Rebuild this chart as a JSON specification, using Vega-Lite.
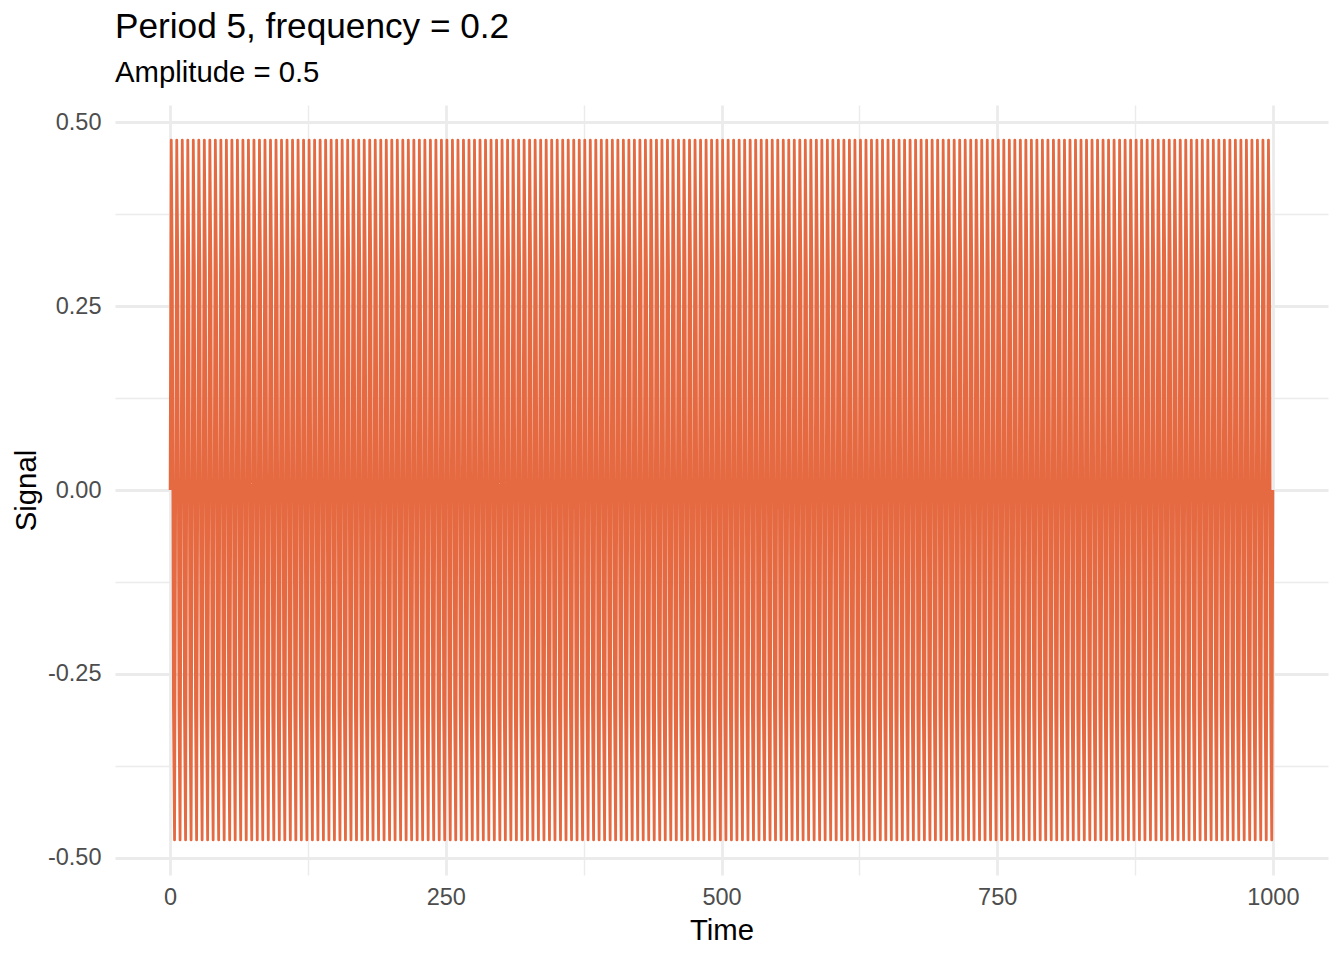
{
  "$schema": "https://vega.github.io/schema/vega-lite/v6.json",
  "width": 1213,
  "height": 770,
  "autosize": {"type": "none"},
  "padding": {"left": 115, "top": 105, "right": 16, "bottom": 85},
  "config": {
    "view": {"stroke": null},
    "font": "Liberation Sans"
  },
  "title": {
    "text": "Period 5, frequency = 0.2",
    "subtitle": "Amplitude = 0.5",
    "anchor": "start",
    "frame": "group",
    "font": "Liberation Sans",
    "fontSize": 35.2,
    "fontWeight": "normal",
    "color": "#000000",
    "subtitleFont": "Liberation Sans",
    "subtitleFontSize": 29.3,
    "subtitleColor": "#000000",
    "subtitlePadding": 14,
    "offset": 17
  },
  "data": {
    "values": [
      {"t":0,"s":0},{"t":1,"s":0.4755},{"t":2,"s":0.2939},{"t":3,"s":-0.2939},{"t":4,"s":-0.4755},
      {"t":5,"s":0},{"t":6,"s":0.4755},{"t":7,"s":0.2939},{"t":8,"s":-0.2939},{"t":9,"s":-0.4755},
      {"t":10,"s":0},{"t":11,"s":0.4755},{"t":12,"s":0.2939},{"t":13,"s":-0.2939},{"t":14,"s":-0.4755},
      {"t":15,"s":0},{"t":16,"s":0.4755},{"t":17,"s":0.2939},{"t":18,"s":-0.2939},{"t":19,"s":-0.4755},
      {"t":20,"s":0},{"t":21,"s":0.4755},{"t":22,"s":0.2939},{"t":23,"s":-0.2939},{"t":24,"s":-0.4755},
      {"t":25,"s":0},{"t":26,"s":0.4755},{"t":27,"s":0.2939},{"t":28,"s":-0.2939},{"t":29,"s":-0.4755},
      {"t":30,"s":0},{"t":31,"s":0.4755},{"t":32,"s":0.2939},{"t":33,"s":-0.2939},{"t":34,"s":-0.4755},
      {"t":35,"s":0},{"t":36,"s":0.4755},{"t":37,"s":0.2939},{"t":38,"s":-0.2939},{"t":39,"s":-0.4755},
      {"t":40,"s":0},{"t":41,"s":0.4755},{"t":42,"s":0.2939},{"t":43,"s":-0.2939},{"t":44,"s":-0.4755},
      {"t":45,"s":0},{"t":46,"s":0.4755},{"t":47,"s":0.2939},{"t":48,"s":-0.2939},{"t":49,"s":-0.4755},
      {"t":50,"s":0},{"t":51,"s":0.4755},{"t":52,"s":0.2939},{"t":53,"s":-0.2939},{"t":54,"s":-0.4755},
      {"t":55,"s":0},{"t":56,"s":0.4755},{"t":57,"s":0.2939},{"t":58,"s":-0.2939},{"t":59,"s":-0.4755},
      {"t":60,"s":0},{"t":61,"s":0.4755},{"t":62,"s":0.2939},{"t":63,"s":-0.2939},{"t":64,"s":-0.4755},
      {"t":65,"s":0},{"t":66,"s":0.4755},{"t":67,"s":0.2939},{"t":68,"s":-0.2939},{"t":69,"s":-0.4755},
      {"t":70,"s":0},{"t":71,"s":0.4755},{"t":72,"s":0.2939},{"t":73,"s":-0.2939},{"t":74,"s":-0.4755},
      {"t":75,"s":0},{"t":76,"s":0.4755},{"t":77,"s":0.2939},{"t":78,"s":-0.2939},{"t":79,"s":-0.4755},
      {"t":80,"s":0},{"t":81,"s":0.4755},{"t":82,"s":0.2939},{"t":83,"s":-0.2939},{"t":84,"s":-0.4755},
      {"t":85,"s":0},{"t":86,"s":0.4755},{"t":87,"s":0.2939},{"t":88,"s":-0.2939},{"t":89,"s":-0.4755},
      {"t":90,"s":0},{"t":91,"s":0.4755},{"t":92,"s":0.2939},{"t":93,"s":-0.2939},{"t":94,"s":-0.4755},
      {"t":95,"s":0},{"t":96,"s":0.4755},{"t":97,"s":0.2939},{"t":98,"s":-0.2939},{"t":99,"s":-0.4755},
      {"t":100,"s":0},{"t":101,"s":0.4755},{"t":102,"s":0.2939},{"t":103,"s":-0.2939},{"t":104,"s":-0.4755},
      {"t":105,"s":0},{"t":106,"s":0.4755},{"t":107,"s":0.2939},{"t":108,"s":-0.2939},{"t":109,"s":-0.4755},
      {"t":110,"s":0},{"t":111,"s":0.4755},{"t":112,"s":0.2939},{"t":113,"s":-0.2939},{"t":114,"s":-0.4755},
      {"t":115,"s":0},{"t":116,"s":0.4755},{"t":117,"s":0.2939},{"t":118,"s":-0.2939},{"t":119,"s":-0.4755},
      {"t":120,"s":0},{"t":121,"s":0.4755},{"t":122,"s":0.2939},{"t":123,"s":-0.2939},{"t":124,"s":-0.4755},
      {"t":125,"s":0},{"t":126,"s":0.4755},{"t":127,"s":0.2939},{"t":128,"s":-0.2939},{"t":129,"s":-0.4755},
      {"t":130,"s":0},{"t":131,"s":0.4755},{"t":132,"s":0.2939},{"t":133,"s":-0.2939},{"t":134,"s":-0.4755},
      {"t":135,"s":0},{"t":136,"s":0.4755},{"t":137,"s":0.2939},{"t":138,"s":-0.2939},{"t":139,"s":-0.4755},
      {"t":140,"s":0},{"t":141,"s":0.4755},{"t":142,"s":0.2939},{"t":143,"s":-0.2939},{"t":144,"s":-0.4755},
      {"t":145,"s":0},{"t":146,"s":0.4755},{"t":147,"s":0.2939},{"t":148,"s":-0.2939},{"t":149,"s":-0.4755},
      {"t":150,"s":0},{"t":151,"s":0.4755},{"t":152,"s":0.2939},{"t":153,"s":-0.2939},{"t":154,"s":-0.4755},
      {"t":155,"s":0},{"t":156,"s":0.4755},{"t":157,"s":0.2939},{"t":158,"s":-0.2939},{"t":159,"s":-0.4755},
      {"t":160,"s":0},{"t":161,"s":0.4755},{"t":162,"s":0.2939},{"t":163,"s":-0.2939},{"t":164,"s":-0.4755},
      {"t":165,"s":0},{"t":166,"s":0.4755},{"t":167,"s":0.2939},{"t":168,"s":-0.2939},{"t":169,"s":-0.4755},
      {"t":170,"s":0},{"t":171,"s":0.4755},{"t":172,"s":0.2939},{"t":173,"s":-0.2939},{"t":174,"s":-0.4755},
      {"t":175,"s":0},{"t":176,"s":0.4755},{"t":177,"s":0.2939},{"t":178,"s":-0.2939},{"t":179,"s":-0.4755},
      {"t":180,"s":0},{"t":181,"s":0.4755},{"t":182,"s":0.2939},{"t":183,"s":-0.2939},{"t":184,"s":-0.4755},
      {"t":185,"s":0},{"t":186,"s":0.4755},{"t":187,"s":0.2939},{"t":188,"s":-0.2939},{"t":189,"s":-0.4755},
      {"t":190,"s":0},{"t":191,"s":0.4755},{"t":192,"s":0.2939},{"t":193,"s":-0.2939},{"t":194,"s":-0.4755},
      {"t":195,"s":0},{"t":196,"s":0.4755},{"t":197,"s":0.2939},{"t":198,"s":-0.2939},{"t":199,"s":-0.4755},
      {"t":200,"s":0},{"t":201,"s":0.4755},{"t":202,"s":0.2939},{"t":203,"s":-0.2939},{"t":204,"s":-0.4755},
      {"t":205,"s":0},{"t":206,"s":0.4755},{"t":207,"s":0.2939},{"t":208,"s":-0.2939},{"t":209,"s":-0.4755},
      {"t":210,"s":0},{"t":211,"s":0.4755},{"t":212,"s":0.2939},{"t":213,"s":-0.2939},{"t":214,"s":-0.4755},
      {"t":215,"s":0},{"t":216,"s":0.4755},{"t":217,"s":0.2939},{"t":218,"s":-0.2939},{"t":219,"s":-0.4755},
      {"t":220,"s":0},{"t":221,"s":0.4755},{"t":222,"s":0.2939},{"t":223,"s":-0.2939},{"t":224,"s":-0.4755},
      {"t":225,"s":0},{"t":226,"s":0.4755},{"t":227,"s":0.2939},{"t":228,"s":-0.2939},{"t":229,"s":-0.4755},
      {"t":230,"s":0},{"t":231,"s":0.4755},{"t":232,"s":0.2939},{"t":233,"s":-0.2939},{"t":234,"s":-0.4755},
      {"t":235,"s":0},{"t":236,"s":0.4755},{"t":237,"s":0.2939},{"t":238,"s":-0.2939},{"t":239,"s":-0.4755},
      {"t":240,"s":0},{"t":241,"s":0.4755},{"t":242,"s":0.2939},{"t":243,"s":-0.2939},{"t":244,"s":-0.4755},
      {"t":245,"s":0},{"t":246,"s":0.4755},{"t":247,"s":0.2939},{"t":248,"s":-0.2939},{"t":249,"s":-0.4755},
      {"t":250,"s":0},{"t":251,"s":0.4755},{"t":252,"s":0.2939},{"t":253,"s":-0.2939},{"t":254,"s":-0.4755},
      {"t":255,"s":0},{"t":256,"s":0.4755},{"t":257,"s":0.2939},{"t":258,"s":-0.2939},{"t":259,"s":-0.4755},
      {"t":260,"s":0},{"t":261,"s":0.4755},{"t":262,"s":0.2939},{"t":263,"s":-0.2939},{"t":264,"s":-0.4755},
      {"t":265,"s":0},{"t":266,"s":0.4755},{"t":267,"s":0.2939},{"t":268,"s":-0.2939},{"t":269,"s":-0.4755},
      {"t":270,"s":0},{"t":271,"s":0.4755},{"t":272,"s":0.2939},{"t":273,"s":-0.2939},{"t":274,"s":-0.4755},
      {"t":275,"s":0},{"t":276,"s":0.4755},{"t":277,"s":0.2939},{"t":278,"s":-0.2939},{"t":279,"s":-0.4755},
      {"t":280,"s":0},{"t":281,"s":0.4755},{"t":282,"s":0.2939},{"t":283,"s":-0.2939},{"t":284,"s":-0.4755},
      {"t":285,"s":0},{"t":286,"s":0.4755},{"t":287,"s":0.2939},{"t":288,"s":-0.2939},{"t":289,"s":-0.4755},
      {"t":290,"s":0},{"t":291,"s":0.4755},{"t":292,"s":0.2939},{"t":293,"s":-0.2939},{"t":294,"s":-0.4755},
      {"t":295,"s":0},{"t":296,"s":0.4755},{"t":297,"s":0.2939},{"t":298,"s":-0.2939},{"t":299,"s":-0.4755},
      {"t":300,"s":0},{"t":301,"s":0.4755},{"t":302,"s":0.2939},{"t":303,"s":-0.2939},{"t":304,"s":-0.4755},
      {"t":305,"s":0},{"t":306,"s":0.4755},{"t":307,"s":0.2939},{"t":308,"s":-0.2939},{"t":309,"s":-0.4755},
      {"t":310,"s":0},{"t":311,"s":0.4755},{"t":312,"s":0.2939},{"t":313,"s":-0.2939},{"t":314,"s":-0.4755},
      {"t":315,"s":0},{"t":316,"s":0.4755},{"t":317,"s":0.2939},{"t":318,"s":-0.2939},{"t":319,"s":-0.4755},
      {"t":320,"s":0},{"t":321,"s":0.4755},{"t":322,"s":0.2939},{"t":323,"s":-0.2939},{"t":324,"s":-0.4755},
      {"t":325,"s":0},{"t":326,"s":0.4755},{"t":327,"s":0.2939},{"t":328,"s":-0.2939},{"t":329,"s":-0.4755},
      {"t":330,"s":0},{"t":331,"s":0.4755},{"t":332,"s":0.2939},{"t":333,"s":-0.2939},{"t":334,"s":-0.4755},
      {"t":335,"s":0},{"t":336,"s":0.4755},{"t":337,"s":0.2939},{"t":338,"s":-0.2939},{"t":339,"s":-0.4755},
      {"t":340,"s":0},{"t":341,"s":0.4755},{"t":342,"s":0.2939},{"t":343,"s":-0.2939},{"t":344,"s":-0.4755},
      {"t":345,"s":0},{"t":346,"s":0.4755},{"t":347,"s":0.2939},{"t":348,"s":-0.2939},{"t":349,"s":-0.4755},
      {"t":350,"s":0},{"t":351,"s":0.4755},{"t":352,"s":0.2939},{"t":353,"s":-0.2939},{"t":354,"s":-0.4755},
      {"t":355,"s":0},{"t":356,"s":0.4755},{"t":357,"s":0.2939},{"t":358,"s":-0.2939},{"t":359,"s":-0.4755},
      {"t":360,"s":0},{"t":361,"s":0.4755},{"t":362,"s":0.2939},{"t":363,"s":-0.2939},{"t":364,"s":-0.4755},
      {"t":365,"s":0},{"t":366,"s":0.4755},{"t":367,"s":0.2939},{"t":368,"s":-0.2939},{"t":369,"s":-0.4755},
      {"t":370,"s":0},{"t":371,"s":0.4755},{"t":372,"s":0.2939},{"t":373,"s":-0.2939},{"t":374,"s":-0.4755},
      {"t":375,"s":0},{"t":376,"s":0.4755},{"t":377,"s":0.2939},{"t":378,"s":-0.2939},{"t":379,"s":-0.4755},
      {"t":380,"s":0},{"t":381,"s":0.4755},{"t":382,"s":0.2939},{"t":383,"s":-0.2939},{"t":384,"s":-0.4755},
      {"t":385,"s":0},{"t":386,"s":0.4755},{"t":387,"s":0.2939},{"t":388,"s":-0.2939},{"t":389,"s":-0.4755},
      {"t":390,"s":0},{"t":391,"s":0.4755},{"t":392,"s":0.2939},{"t":393,"s":-0.2939},{"t":394,"s":-0.4755},
      {"t":395,"s":0},{"t":396,"s":0.4755},{"t":397,"s":0.2939},{"t":398,"s":-0.2939},{"t":399,"s":-0.4755},
      {"t":400,"s":0},{"t":401,"s":0.4755},{"t":402,"s":0.2939},{"t":403,"s":-0.2939},{"t":404,"s":-0.4755},
      {"t":405,"s":0},{"t":406,"s":0.4755},{"t":407,"s":0.2939},{"t":408,"s":-0.2939},{"t":409,"s":-0.4755},
      {"t":410,"s":0},{"t":411,"s":0.4755},{"t":412,"s":0.2939},{"t":413,"s":-0.2939},{"t":414,"s":-0.4755},
      {"t":415,"s":0},{"t":416,"s":0.4755},{"t":417,"s":0.2939},{"t":418,"s":-0.2939},{"t":419,"s":-0.4755},
      {"t":420,"s":0},{"t":421,"s":0.4755},{"t":422,"s":0.2939},{"t":423,"s":-0.2939},{"t":424,"s":-0.4755},
      {"t":425,"s":0},{"t":426,"s":0.4755},{"t":427,"s":0.2939},{"t":428,"s":-0.2939},{"t":429,"s":-0.4755},
      {"t":430,"s":0},{"t":431,"s":0.4755},{"t":432,"s":0.2939},{"t":433,"s":-0.2939},{"t":434,"s":-0.4755},
      {"t":435,"s":0},{"t":436,"s":0.4755},{"t":437,"s":0.2939},{"t":438,"s":-0.2939},{"t":439,"s":-0.4755},
      {"t":440,"s":0},{"t":441,"s":0.4755},{"t":442,"s":0.2939},{"t":443,"s":-0.2939},{"t":444,"s":-0.4755},
      {"t":445,"s":0},{"t":446,"s":0.4755},{"t":447,"s":0.2939},{"t":448,"s":-0.2939},{"t":449,"s":-0.4755},
      {"t":450,"s":0},{"t":451,"s":0.4755},{"t":452,"s":0.2939},{"t":453,"s":-0.2939},{"t":454,"s":-0.4755},
      {"t":455,"s":0},{"t":456,"s":0.4755},{"t":457,"s":0.2939},{"t":458,"s":-0.2939},{"t":459,"s":-0.4755},
      {"t":460,"s":0},{"t":461,"s":0.4755},{"t":462,"s":0.2939},{"t":463,"s":-0.2939},{"t":464,"s":-0.4755},
      {"t":465,"s":0},{"t":466,"s":0.4755},{"t":467,"s":0.2939},{"t":468,"s":-0.2939},{"t":469,"s":-0.4755},
      {"t":470,"s":0},{"t":471,"s":0.4755},{"t":472,"s":0.2939},{"t":473,"s":-0.2939},{"t":474,"s":-0.4755},
      {"t":475,"s":0},{"t":476,"s":0.4755},{"t":477,"s":0.2939},{"t":478,"s":-0.2939},{"t":479,"s":-0.4755},
      {"t":480,"s":0},{"t":481,"s":0.4755},{"t":482,"s":0.2939},{"t":483,"s":-0.2939},{"t":484,"s":-0.4755},
      {"t":485,"s":0},{"t":486,"s":0.4755},{"t":487,"s":0.2939},{"t":488,"s":-0.2939},{"t":489,"s":-0.4755},
      {"t":490,"s":0},{"t":491,"s":0.4755},{"t":492,"s":0.2939},{"t":493,"s":-0.2939},{"t":494,"s":-0.4755},
      {"t":495,"s":0},{"t":496,"s":0.4755},{"t":497,"s":0.2939},{"t":498,"s":-0.2939},{"t":499,"s":-0.4755},
      {"t":500,"s":0},{"t":501,"s":0.4755},{"t":502,"s":0.2939},{"t":503,"s":-0.2939},{"t":504,"s":-0.4755},
      {"t":505,"s":0},{"t":506,"s":0.4755},{"t":507,"s":0.2939},{"t":508,"s":-0.2939},{"t":509,"s":-0.4755},
      {"t":510,"s":0},{"t":511,"s":0.4755},{"t":512,"s":0.2939},{"t":513,"s":-0.2939},{"t":514,"s":-0.4755},
      {"t":515,"s":0},{"t":516,"s":0.4755},{"t":517,"s":0.2939},{"t":518,"s":-0.2939},{"t":519,"s":-0.4755},
      {"t":520,"s":0},{"t":521,"s":0.4755},{"t":522,"s":0.2939},{"t":523,"s":-0.2939},{"t":524,"s":-0.4755},
      {"t":525,"s":0},{"t":526,"s":0.4755},{"t":527,"s":0.2939},{"t":528,"s":-0.2939},{"t":529,"s":-0.4755},
      {"t":530,"s":0},{"t":531,"s":0.4755},{"t":532,"s":0.2939},{"t":533,"s":-0.2939},{"t":534,"s":-0.4755},
      {"t":535,"s":0},{"t":536,"s":0.4755},{"t":537,"s":0.2939},{"t":538,"s":-0.2939},{"t":539,"s":-0.4755},
      {"t":540,"s":0},{"t":541,"s":0.4755},{"t":542,"s":0.2939},{"t":543,"s":-0.2939},{"t":544,"s":-0.4755},
      {"t":545,"s":0},{"t":546,"s":0.4755},{"t":547,"s":0.2939},{"t":548,"s":-0.2939},{"t":549,"s":-0.4755},
      {"t":550,"s":0},{"t":551,"s":0.4755},{"t":552,"s":0.2939},{"t":553,"s":-0.2939},{"t":554,"s":-0.4755},
      {"t":555,"s":0},{"t":556,"s":0.4755},{"t":557,"s":0.2939},{"t":558,"s":-0.2939},{"t":559,"s":-0.4755},
      {"t":560,"s":0},{"t":561,"s":0.4755},{"t":562,"s":0.2939},{"t":563,"s":-0.2939},{"t":564,"s":-0.4755},
      {"t":565,"s":0},{"t":566,"s":0.4755},{"t":567,"s":0.2939},{"t":568,"s":-0.2939},{"t":569,"s":-0.4755},
      {"t":570,"s":0},{"t":571,"s":0.4755},{"t":572,"s":0.2939},{"t":573,"s":-0.2939},{"t":574,"s":-0.4755},
      {"t":575,"s":0},{"t":576,"s":0.4755},{"t":577,"s":0.2939},{"t":578,"s":-0.2939},{"t":579,"s":-0.4755},
      {"t":580,"s":0},{"t":581,"s":0.4755},{"t":582,"s":0.2939},{"t":583,"s":-0.2939},{"t":584,"s":-0.4755},
      {"t":585,"s":0},{"t":586,"s":0.4755},{"t":587,"s":0.2939},{"t":588,"s":-0.2939},{"t":589,"s":-0.4755},
      {"t":590,"s":0},{"t":591,"s":0.4755},{"t":592,"s":0.2939},{"t":593,"s":-0.2939},{"t":594,"s":-0.4755},
      {"t":595,"s":0},{"t":596,"s":0.4755},{"t":597,"s":0.2939},{"t":598,"s":-0.2939},{"t":599,"s":-0.4755},
      {"t":600,"s":0},{"t":601,"s":0.4755},{"t":602,"s":0.2939},{"t":603,"s":-0.2939},{"t":604,"s":-0.4755},
      {"t":605,"s":0},{"t":606,"s":0.4755},{"t":607,"s":0.2939},{"t":608,"s":-0.2939},{"t":609,"s":-0.4755},
      {"t":610,"s":0},{"t":611,"s":0.4755},{"t":612,"s":0.2939},{"t":613,"s":-0.2939},{"t":614,"s":-0.4755},
      {"t":615,"s":0},{"t":616,"s":0.4755},{"t":617,"s":0.2939},{"t":618,"s":-0.2939},{"t":619,"s":-0.4755},
      {"t":620,"s":0},{"t":621,"s":0.4755},{"t":622,"s":0.2939},{"t":623,"s":-0.2939},{"t":624,"s":-0.4755},
      {"t":625,"s":0},{"t":626,"s":0.4755},{"t":627,"s":0.2939},{"t":628,"s":-0.2939},{"t":629,"s":-0.4755},
      {"t":630,"s":0},{"t":631,"s":0.4755},{"t":632,"s":0.2939},{"t":633,"s":-0.2939},{"t":634,"s":-0.4755},
      {"t":635,"s":0},{"t":636,"s":0.4755},{"t":637,"s":0.2939},{"t":638,"s":-0.2939},{"t":639,"s":-0.4755},
      {"t":640,"s":0},{"t":641,"s":0.4755},{"t":642,"s":0.2939},{"t":643,"s":-0.2939},{"t":644,"s":-0.4755},
      {"t":645,"s":0},{"t":646,"s":0.4755},{"t":647,"s":0.2939},{"t":648,"s":-0.2939},{"t":649,"s":-0.4755},
      {"t":650,"s":0},{"t":651,"s":0.4755},{"t":652,"s":0.2939},{"t":653,"s":-0.2939},{"t":654,"s":-0.4755},
      {"t":655,"s":0},{"t":656,"s":0.4755},{"t":657,"s":0.2939},{"t":658,"s":-0.2939},{"t":659,"s":-0.4755},
      {"t":660,"s":0},{"t":661,"s":0.4755},{"t":662,"s":0.2939},{"t":663,"s":-0.2939},{"t":664,"s":-0.4755},
      {"t":665,"s":0},{"t":666,"s":0.4755},{"t":667,"s":0.2939},{"t":668,"s":-0.2939},{"t":669,"s":-0.4755},
      {"t":670,"s":0},{"t":671,"s":0.4755},{"t":672,"s":0.2939},{"t":673,"s":-0.2939},{"t":674,"s":-0.4755},
      {"t":675,"s":0},{"t":676,"s":0.4755},{"t":677,"s":0.2939},{"t":678,"s":-0.2939},{"t":679,"s":-0.4755},
      {"t":680,"s":0},{"t":681,"s":0.4755},{"t":682,"s":0.2939},{"t":683,"s":-0.2939},{"t":684,"s":-0.4755},
      {"t":685,"s":0},{"t":686,"s":0.4755},{"t":687,"s":0.2939},{"t":688,"s":-0.2939},{"t":689,"s":-0.4755},
      {"t":690,"s":0},{"t":691,"s":0.4755},{"t":692,"s":0.2939},{"t":693,"s":-0.2939},{"t":694,"s":-0.4755},
      {"t":695,"s":0},{"t":696,"s":0.4755},{"t":697,"s":0.2939},{"t":698,"s":-0.2939},{"t":699,"s":-0.4755},
      {"t":700,"s":0},{"t":701,"s":0.4755},{"t":702,"s":0.2939},{"t":703,"s":-0.2939},{"t":704,"s":-0.4755},
      {"t":705,"s":0},{"t":706,"s":0.4755},{"t":707,"s":0.2939},{"t":708,"s":-0.2939},{"t":709,"s":-0.4755},
      {"t":710,"s":0},{"t":711,"s":0.4755},{"t":712,"s":0.2939},{"t":713,"s":-0.2939},{"t":714,"s":-0.4755},
      {"t":715,"s":0},{"t":716,"s":0.4755},{"t":717,"s":0.2939},{"t":718,"s":-0.2939},{"t":719,"s":-0.4755},
      {"t":720,"s":0},{"t":721,"s":0.4755},{"t":722,"s":0.2939},{"t":723,"s":-0.2939},{"t":724,"s":-0.4755},
      {"t":725,"s":0},{"t":726,"s":0.4755},{"t":727,"s":0.2939},{"t":728,"s":-0.2939},{"t":729,"s":-0.4755},
      {"t":730,"s":0},{"t":731,"s":0.4755},{"t":732,"s":0.2939},{"t":733,"s":-0.2939},{"t":734,"s":-0.4755},
      {"t":735,"s":0},{"t":736,"s":0.4755},{"t":737,"s":0.2939},{"t":738,"s":-0.2939},{"t":739,"s":-0.4755},
      {"t":740,"s":0},{"t":741,"s":0.4755},{"t":742,"s":0.2939},{"t":743,"s":-0.2939},{"t":744,"s":-0.4755},
      {"t":745,"s":0},{"t":746,"s":0.4755},{"t":747,"s":0.2939},{"t":748,"s":-0.2939},{"t":749,"s":-0.4755},
      {"t":750,"s":0},{"t":751,"s":0.4755},{"t":752,"s":0.2939},{"t":753,"s":-0.2939},{"t":754,"s":-0.4755},
      {"t":755,"s":0},{"t":756,"s":0.4755},{"t":757,"s":0.2939},{"t":758,"s":-0.2939},{"t":759,"s":-0.4755},
      {"t":760,"s":0},{"t":761,"s":0.4755},{"t":762,"s":0.2939},{"t":763,"s":-0.2939},{"t":764,"s":-0.4755},
      {"t":765,"s":0},{"t":766,"s":0.4755},{"t":767,"s":0.2939},{"t":768,"s":-0.2939},{"t":769,"s":-0.4755},
      {"t":770,"s":0},{"t":771,"s":0.4755},{"t":772,"s":0.2939},{"t":773,"s":-0.2939},{"t":774,"s":-0.4755},
      {"t":775,"s":0},{"t":776,"s":0.4755},{"t":777,"s":0.2939},{"t":778,"s":-0.2939},{"t":779,"s":-0.4755},
      {"t":780,"s":0},{"t":781,"s":0.4755},{"t":782,"s":0.2939},{"t":783,"s":-0.2939},{"t":784,"s":-0.4755},
      {"t":785,"s":0},{"t":786,"s":0.4755},{"t":787,"s":0.2939},{"t":788,"s":-0.2939},{"t":789,"s":-0.4755},
      {"t":790,"s":0},{"t":791,"s":0.4755},{"t":792,"s":0.2939},{"t":793,"s":-0.2939},{"t":794,"s":-0.4755},
      {"t":795,"s":0},{"t":796,"s":0.4755},{"t":797,"s":0.2939},{"t":798,"s":-0.2939},{"t":799,"s":-0.4755},
      {"t":800,"s":0},{"t":801,"s":0.4755},{"t":802,"s":0.2939},{"t":803,"s":-0.2939},{"t":804,"s":-0.4755},
      {"t":805,"s":0},{"t":806,"s":0.4755},{"t":807,"s":0.2939},{"t":808,"s":-0.2939},{"t":809,"s":-0.4755},
      {"t":810,"s":0},{"t":811,"s":0.4755},{"t":812,"s":0.2939},{"t":813,"s":-0.2939},{"t":814,"s":-0.4755},
      {"t":815,"s":0},{"t":816,"s":0.4755},{"t":817,"s":0.2939},{"t":818,"s":-0.2939},{"t":819,"s":-0.4755},
      {"t":820,"s":0},{"t":821,"s":0.4755},{"t":822,"s":0.2939},{"t":823,"s":-0.2939},{"t":824,"s":-0.4755},
      {"t":825,"s":0},{"t":826,"s":0.4755},{"t":827,"s":0.2939},{"t":828,"s":-0.2939},{"t":829,"s":-0.4755},
      {"t":830,"s":0},{"t":831,"s":0.4755},{"t":832,"s":0.2939},{"t":833,"s":-0.2939},{"t":834,"s":-0.4755},
      {"t":835,"s":0},{"t":836,"s":0.4755},{"t":837,"s":0.2939},{"t":838,"s":-0.2939},{"t":839,"s":-0.4755},
      {"t":840,"s":0},{"t":841,"s":0.4755},{"t":842,"s":0.2939},{"t":843,"s":-0.2939},{"t":844,"s":-0.4755},
      {"t":845,"s":0},{"t":846,"s":0.4755},{"t":847,"s":0.2939},{"t":848,"s":-0.2939},{"t":849,"s":-0.4755},
      {"t":850,"s":0},{"t":851,"s":0.4755},{"t":852,"s":0.2939},{"t":853,"s":-0.2939},{"t":854,"s":-0.4755},
      {"t":855,"s":0},{"t":856,"s":0.4755},{"t":857,"s":0.2939},{"t":858,"s":-0.2939},{"t":859,"s":-0.4755},
      {"t":860,"s":0},{"t":861,"s":0.4755},{"t":862,"s":0.2939},{"t":863,"s":-0.2939},{"t":864,"s":-0.4755},
      {"t":865,"s":0},{"t":866,"s":0.4755},{"t":867,"s":0.2939},{"t":868,"s":-0.2939},{"t":869,"s":-0.4755},
      {"t":870,"s":0},{"t":871,"s":0.4755},{"t":872,"s":0.2939},{"t":873,"s":-0.2939},{"t":874,"s":-0.4755},
      {"t":875,"s":0},{"t":876,"s":0.4755},{"t":877,"s":0.2939},{"t":878,"s":-0.2939},{"t":879,"s":-0.4755},
      {"t":880,"s":0},{"t":881,"s":0.4755},{"t":882,"s":0.2939},{"t":883,"s":-0.2939},{"t":884,"s":-0.4755},
      {"t":885,"s":0},{"t":886,"s":0.4755},{"t":887,"s":0.2939},{"t":888,"s":-0.2939},{"t":889,"s":-0.4755},
      {"t":890,"s":0},{"t":891,"s":0.4755},{"t":892,"s":0.2939},{"t":893,"s":-0.2939},{"t":894,"s":-0.4755},
      {"t":895,"s":0},{"t":896,"s":0.4755},{"t":897,"s":0.2939},{"t":898,"s":-0.2939},{"t":899,"s":-0.4755},
      {"t":900,"s":0},{"t":901,"s":0.4755},{"t":902,"s":0.2939},{"t":903,"s":-0.2939},{"t":904,"s":-0.4755},
      {"t":905,"s":0},{"t":906,"s":0.4755},{"t":907,"s":0.2939},{"t":908,"s":-0.2939},{"t":909,"s":-0.4755},
      {"t":910,"s":0},{"t":911,"s":0.4755},{"t":912,"s":0.2939},{"t":913,"s":-0.2939},{"t":914,"s":-0.4755},
      {"t":915,"s":0},{"t":916,"s":0.4755},{"t":917,"s":0.2939},{"t":918,"s":-0.2939},{"t":919,"s":-0.4755},
      {"t":920,"s":0},{"t":921,"s":0.4755},{"t":922,"s":0.2939},{"t":923,"s":-0.2939},{"t":924,"s":-0.4755},
      {"t":925,"s":0},{"t":926,"s":0.4755},{"t":927,"s":0.2939},{"t":928,"s":-0.2939},{"t":929,"s":-0.4755},
      {"t":930,"s":0},{"t":931,"s":0.4755},{"t":932,"s":0.2939},{"t":933,"s":-0.2939},{"t":934,"s":-0.4755},
      {"t":935,"s":0},{"t":936,"s":0.4755},{"t":937,"s":0.2939},{"t":938,"s":-0.2939},{"t":939,"s":-0.4755},
      {"t":940,"s":0},{"t":941,"s":0.4755},{"t":942,"s":0.2939},{"t":943,"s":-0.2939},{"t":944,"s":-0.4755},
      {"t":945,"s":0},{"t":946,"s":0.4755},{"t":947,"s":0.2939},{"t":948,"s":-0.2939},{"t":949,"s":-0.4755},
      {"t":950,"s":0},{"t":951,"s":0.4755},{"t":952,"s":0.2939},{"t":953,"s":-0.2939},{"t":954,"s":-0.4755},
      {"t":955,"s":0},{"t":956,"s":0.4755},{"t":957,"s":0.2939},{"t":958,"s":-0.2939},{"t":959,"s":-0.4755},
      {"t":960,"s":0},{"t":961,"s":0.4755},{"t":962,"s":0.2939},{"t":963,"s":-0.2939},{"t":964,"s":-0.4755},
      {"t":965,"s":0},{"t":966,"s":0.4755},{"t":967,"s":0.2939},{"t":968,"s":-0.2939},{"t":969,"s":-0.4755},
      {"t":970,"s":0},{"t":971,"s":0.4755},{"t":972,"s":0.2939},{"t":973,"s":-0.2939},{"t":974,"s":-0.4755},
      {"t":975,"s":0},{"t":976,"s":0.4755},{"t":977,"s":0.2939},{"t":978,"s":-0.2939},{"t":979,"s":-0.4755},
      {"t":980,"s":0},{"t":981,"s":0.4755},{"t":982,"s":0.2939},{"t":983,"s":-0.2939},{"t":984,"s":-0.4755},
      {"t":985,"s":0},{"t":986,"s":0.4755},{"t":987,"s":0.2939},{"t":988,"s":-0.2939},{"t":989,"s":-0.4755},
      {"t":990,"s":0},{"t":991,"s":0.4755},{"t":992,"s":0.2939},{"t":993,"s":-0.2939},{"t":994,"s":-0.4755},
      {"t":995,"s":0},{"t":996,"s":0.4755},{"t":997,"s":0.2939},{"t":998,"s":-0.2939},{"t":999,"s":-0.4755},
      {"t":1000,"s":0}
    ]
  },
  "mark": {
    "type": "line",
    "color": "#E56A42",
    "strokeWidth": 2.8,
    "strokeJoin": "round",
    "strokeCap": "butt"
  },
  "encoding": {
    "x": {
      "field": "t",
      "type": "quantitative",
      "title": "Time",
      "scale": {"domain": [-50, 1050], "nice": false, "zero": false},
      "axis": {
        "values": [0, 125, 250, 375, 500, 625, 750, 875, 1000],
        "labelExpr": "datum.value % 250 === 0 ? format(datum.value, 'd') : ''",
        "domain": false,
        "ticks": false,
        "grid": true,
        "gridColor": "#EBEBEB",
        "gridWidth": {"condition": {"test": "datum.value % 250 === 0", "value": 2.8}, "value": 1.4},
        "labelFont": "Liberation Sans",
        "labelFontSize": 23.5,
        "labelColor": "#4D4D4D",
        "labelPadding": 10,
        "labelFlush": false,
        "titleFont": "Liberation Sans",
        "titleFontSize": 29.3,
        "titleFontWeight": "normal",
        "titleColor": "#000000",
        "titlePadding": 8
      }
    },
    "y": {
      "field": "s",
      "type": "quantitative",
      "title": "Signal",
      "scale": {"domain": [-0.5231, 0.5231], "nice": false, "zero": false},
      "axis": {
        "values": [-0.5, -0.375, -0.25, -0.125, 0, 0.125, 0.25, 0.375, 0.5],
        "labelExpr": "abs(datum.value * 4 - round(datum.value * 4)) < 0.000001 ? replace(format(datum.value, '.2f'), '\u2212', '-') : ''",
        "domain": false,
        "ticks": false,
        "grid": true,
        "gridColor": "#EBEBEB",
        "gridWidth": {"condition": {"test": "abs(datum.value * 4 - round(datum.value * 4)) < 0.000001", "value": 2.8}, "value": 1.4},
        "labelFont": "Liberation Sans",
        "labelFontSize": 23.5,
        "labelColor": "#4D4D4D",
        "labelPadding": 14,
        "labelFlush": false,
        "titleFont": "Liberation Sans",
        "titleFontSize": 29.3,
        "titleFontWeight": "normal",
        "titleColor": "#000000",
        "titlePadding": 6
      }
    }
  }
}
